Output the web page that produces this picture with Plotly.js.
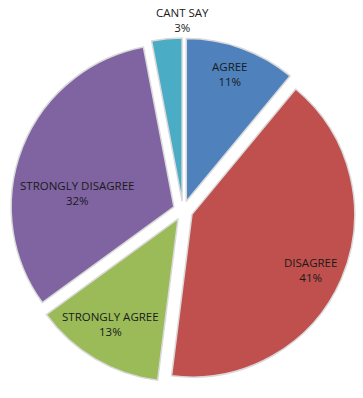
<!DOCTYPE html>
<html>
<head>
<meta charset="utf-8">
<script src="https://cdn.plot.ly/plotly-3.0.1.min.js"></script>
<style>html,body{margin:0;padding:0;background:#fff;}#chart{width:363px;height:398px;}</style>
</head>
<body>
<div id="chart"></div>
<script>
var categories = ["AGREE", "DISAGREE", "STRONGLY AGREE", "STRONGLY DISAGREE", "CANT SAY"];
var values = [11, 41, 13, 32, 3];
var colors = ["#4F81BD", "#C0504D", "#9BBB59", "#8064A2", "#4BACC6"];

// label anchor positions in page pixels (layout only)
var labelPx = [[230, 74], [310, 270], [110, 324], [77, 193], [182, 20]];

var W = 363, H = 398;
var M = { l: 10, r: 7, t: 38, b: 15 };
var total = values.reduce(function(a, b){ return a + b; }, 0);

var trace = {
  type: "pie",
  labels: categories,
  values: values,
  sort: false,
  direction: "clockwise",
  rotation: 0,
  pull: values.map(function(){ return 0.06; }),
  marker: { colors: colors, line: { color: "#d9d9d9", width: 1.5 } },
  textinfo: "none",
  hoverinfo: "label+percent",
  automargin: false,
  showlegend: false
};

var pw = W - M.l - M.r, ph = H - M.t - M.b;
var annotations = categories.map(function(c, i){
  return {
    text: c + "<br>" + Math.round(values[i] / total * 100) + "%",
    xref: "paper", yref: "paper",
    x: (labelPx[i][0] - M.l) / pw,
    y: 1 - (labelPx[i][1] - M.t) / ph,
    xanchor: "center", yanchor: "middle",
    showarrow: false,
    font: { family: "Open Sans, sans-serif", size: 11.5, color: "#1a1a1a" }
  };
});

var layout = {
  width: W,
  height: H,
  margin: M,
  paper_bgcolor: "#ffffff",
  showlegend: false,
  annotations: annotations
};

Plotly.newPlot("chart", [trace], layout, { displayModeBar: false, staticPlot: true });
</script>
</body>
</html>
